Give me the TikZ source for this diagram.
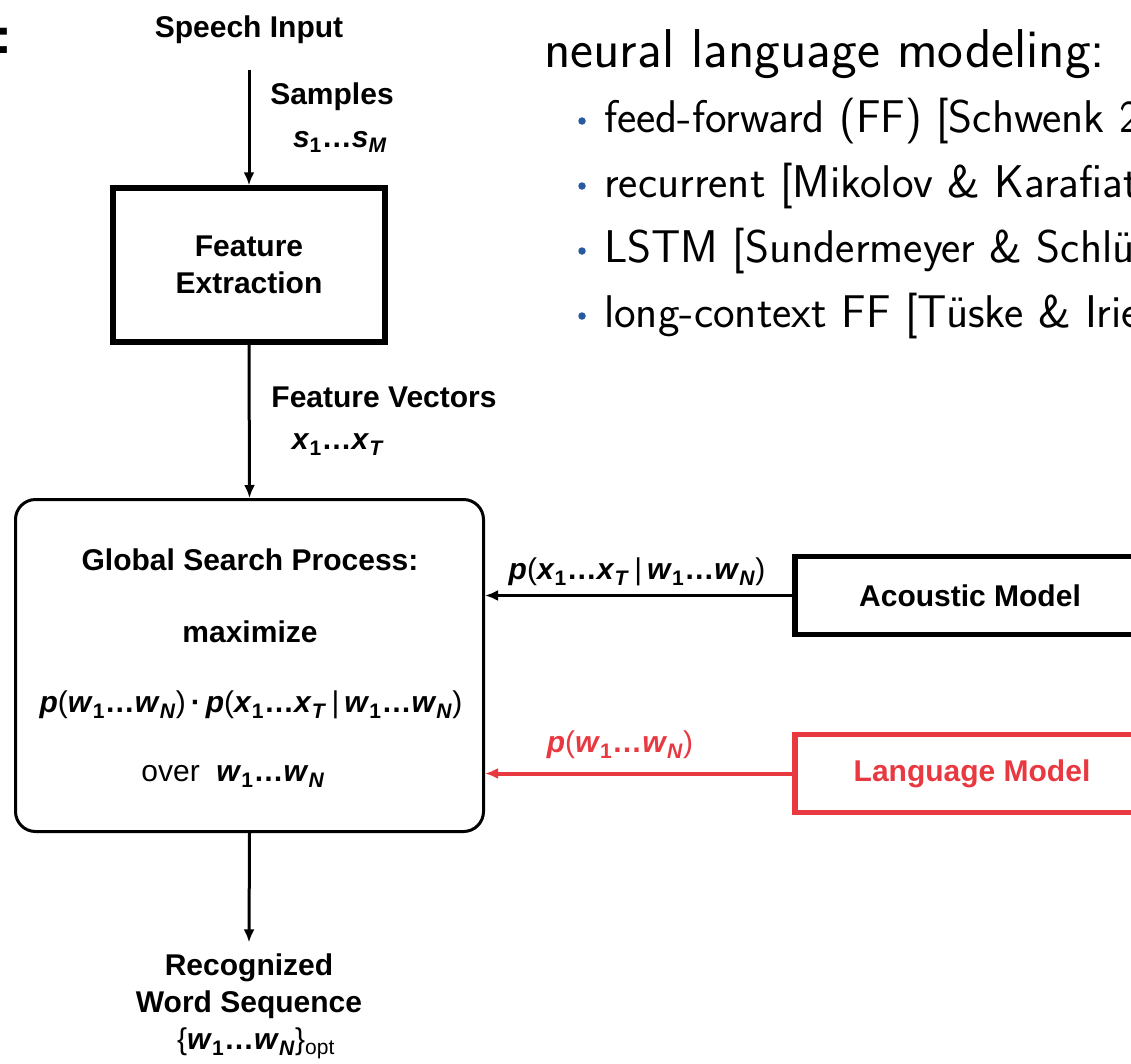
\documentclass[tikz,border=0pt]{standalone}
\usepackage{fontspec}
\setmainfont{Liberation Sans}
\newfontfamily\lmsans{Latin Modern Sans}
\usetikzlibrary{arrows.meta}
\definecolor{lmred}{RGB}{232,56,64}
\definecolor{bulletblue}{RGB}{40,90,160}
\newcommand\mysub[1]{\textsubscript{#1}}
\newcommand\iv[1]{\textit{#1}}
\newlength\mylen
\begin{document}
\settowidth\mylen{\lmsans\fontsize{43}{45}\selectfont feed-forward (FF) [Schwenk\ }%
\pgfmathsetmacro\bfs{515/\mylen*43}%
\settowidth\mylen{\lmsans\fontsize{52}{56}\selectfont neural language modeling:}%
\pgfmathsetmacro\hfs{561/\mylen*52}%
\begin{tikzpicture}[x=1pt,y=-1pt,
  lbl/.style={font=\bfseries\fontsize{30}{37}\selectfont, inner sep=0pt, align=center},
  sqbox/.style={draw, line width=5.5pt, inner sep=0pt},
  arr/.style={-{Latex[length=13pt,width=11pt]}, line width=3pt},
  bltxt/.style={font=\lmsans\fontsize{\bfs}{\bfs}\selectfont, anchor=base west, inner sep=0pt},
  bdot/.style={fill=bulletblue, draw=none, circle, inner sep=0pt, minimum size=7.5pt}]
\useasboundingbox (0,0) rectangle (1131,1063);
\clip (0,0) rectangle (1131,1063);

% colon at top-left
\node[font=\bfseries\fontsize{50}{54}\selectfont, anchor=base west, inner sep=0pt] (colon) at (-5,53) {:};

% left chain
\node[lbl] (speech) at (249,30) {Speech Input};
\node[sqbox, lbl, minimum width=272pt, minimum height=154pt] (fe) at (249,265) {Feature\\Extraction};
\node[lbl] (samples) at (332,97) {Samples};
\node[lbl] (svec) at (340,142) {\iv{s}\mysub{1}…\iv{s}\mysub{\iv{M}}};
\node[lbl] (fv) at (384,397) {Feature Vectors};
\node[lbl] (xvec) at (338,445) {\iv{x}\mysub{1}…\iv{x}\mysub{\iv{T}}};

\node[draw, line width=3pt, rounded corners=20pt, minimum width=468pt, minimum height=332pt, inner sep=0pt] (gs) at (249.5,665.5) {};
\node[lbl] (gsp) at (250,560) {Global Search Process:};
\node[lbl] (maxi) at (250,632) {maximize};
\node[lbl] (form) at (251,705) {\iv{p}{\mdseries(}\iv{w}\mysub{1}…\iv{w}\mysub{\iv{N}}{\mdseries)}\,·\,\iv{p}{\mdseries(}\iv{x}\mysub{1}…\iv{x}\mysub{\iv{T}}\,{\mdseries|}\,\iv{w}\mysub{1}…\iv{w}\mysub{\iv{N}}{\mdseries)}};
\node[lbl] (over) at (233,776) {{\mdseries over}\ \ \iv{w}\mysub{1}…\iv{w}\mysub{\iv{N}}};

\node[lbl] (rec) at (249,986) {Recognized\\Word Sequence};
\node[lbl] (wopt) at (256,1043) {{\mdseries\{}\iv{w}\mysub{1}…\iv{w}\mysub{\iv{N}}{\mdseries\}}\mysub{\mdseries opt}};

\draw[arr] ([yshift=-26pt]speech.south) -- (fe.north);
\draw[arr] (fe.south) -- (gs.north);
\draw[arr] (gs.south) -- ([yshift=11pt]rec.north);

% models
\node[sqbox, lbl, minimum width=350pt, minimum height=78pt] (am) at (970,595.5) {Acoustic Model};
\node[sqbox, lbl, draw=lmred, text=lmred, minimum width=354pt, minimum height=78pt] (lm) at (972,773.5) {Language Model};
\draw[arr] (am.west) -- (am.west -| gs.east);
\draw[arr, draw=lmred, line width=4pt] (lm.west) -- (lm.west -| gs.east);
\node[lbl] (amlbl) at (637,572) {\iv{p}{\mdseries(}\iv{x}\mysub{1}…\iv{x}\mysub{\iv{T}}\,{\mdseries|}\,\iv{w}\mysub{1}…\iv{w}\mysub{\iv{N}}{\mdseries)}};
\node[lbl, text=lmred] (lmlbl) at (620,745) {\iv{p}{\mdseries(}\iv{w}\mysub{1}…\iv{w}\mysub{\iv{N}}{\mdseries)}};

% right text
\node[font=\lmsans\fontsize{\hfs}{\hfs}\selectfont, anchor=base west, inner sep=0pt] (head) at (544,67) {neural language modeling:};
\node[bdot] (b1) at (582,121) {};
\node[bltxt] (t1) at (604,132) {feed-forward (FF) [Schwenk 2};
\node[bdot] (b2) at (582,186) {};
\node[bltxt] (t2) at (604,197) {recurrent [Mikolov \& Karafiat};
\node[bdot] (b3) at (582,251) {};
\node[bltxt] (t3) at (604,262) {LSTM [Sundermeyer \& Schlü};
\node[bdot] (b4) at (582,316) {};
\node[bltxt] (t4) at (604,327) {long-context FF [Tüske \& Irie};
\end{tikzpicture}
\end{document}
